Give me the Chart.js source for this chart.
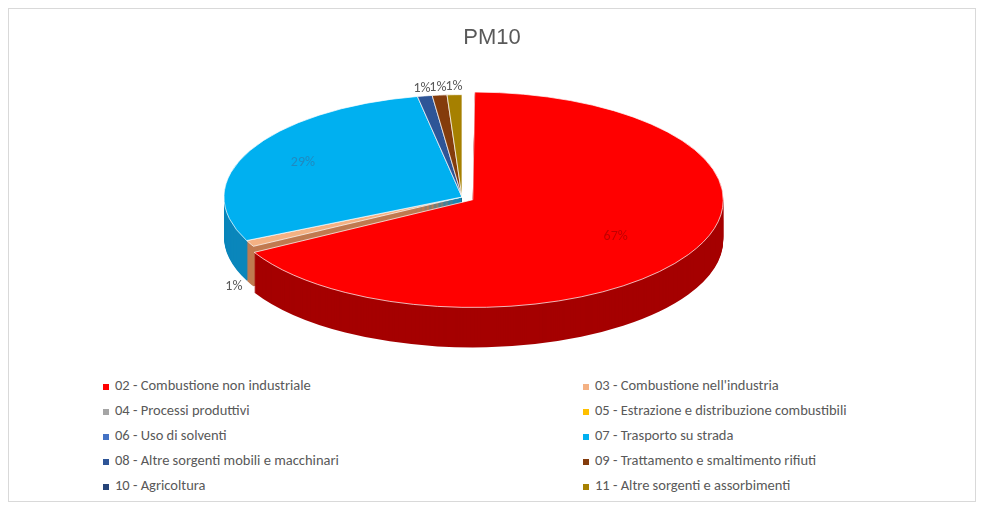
<!DOCTYPE html>
<html>
<head>
<meta charset="utf-8">
<script src="https://cdn.jsdelivr.net/npm/chart.js@4.4.1/dist/chart.umd.min.js"></script>
<style>
  body { margin: 0; background: #fff; font-family: Calibri, Carlito, "Liberation Sans", sans-serif; }
  #box { position: absolute; left: 8px; top: 8px; width: 966px; height: 492px; border: 1px solid #d9d9d9; }
  #wrap { position: absolute; left: 0; top: 0; width: 966px; height: 360px; }
  #legend { position: absolute; left: 94px; top: 367px; width: 860px; display: grid;
            grid-template-columns: 480px 380px; row-gap: 7px; font-size: 14.5px; color: #595959; }
  #legend span.sw { display: inline-block; width: 6px; height: 6px; margin-right: 6px; vertical-align: middle; }
</style>
</head>
<body>
<div id="box">
  <div id="wrap"><canvas id="pm10"></canvas></div>
  <div id="legend"></div>
</div>
<script>
var categorie = ['02 - Combustione non industriale', '03 - Combustione nell\'industria', '04 - Processi produttivi',
  '05 - Estrazione e distribuzione combustibili', '06 - Uso di solventi', '07 - Trasporto su strada',
  '08 - Altre sorgenti mobili e macchinari', '09 - Trattamento e smaltimento rifiuti', '10 - Agricoltura',
  '11 - Altre sorgenti e assorbimenti'];
var valori = [67, 1, 0, 0, 0, 29, 1, 1, 0, 1];
var colori = ['#ff0000', '#f4b183', '#a5a5a5', '#ffc000', '#4472c4', '#00b0f0', '#2e5597', '#843c0c', '#264478', '#a68000'];
var scuri = ['#a50000', '#c07a50', '#7a7a7a', '#c09000', '#2f4f8f', '#0a86bb', '#1e3a6a', '#5a2808', '#1a2f55', '#7a5e00'];

var SQ = 0.43, CY = 188, DEPTH = 40, SHIFT = -30;

function pos(chart) {
  var a = chart.getDatasetMeta(0).data[0];
  return { cx: a.x, cy: a.y };
}

var piano3d = {
  id: 'piano3d',
  beforeDatasetsDraw: function (chart) {
    var ctx = chart.ctx, p = pos(chart), meta = chart.getDatasetMeta(0);
    for (var d = DEPTH; d > 0; d--) {
      ctx.save();
      ctx.translate(p.cx + SHIFT, CY + d);
      ctx.scale(1, SQ);
      ctx.translate(-p.cx, -p.cy);
      meta.data.forEach(function (arc, i) {
        if (!valori[i]) return;
        var o = arc.options, bg = o.backgroundColor, bc = o.borderWidth;
        o.backgroundColor = scuri[i]; o.borderWidth = 0;
        arc.draw(ctx);
        o.backgroundColor = bg; o.borderWidth = bc;
      });
      ctx.restore();
    }
    ctx.save();
    ctx.translate(p.cx + SHIFT, CY);
    ctx.scale(1, SQ);
    ctx.translate(-p.cx, -p.cy);
  },
  afterDatasetsDraw: function (chart) {
    var ctx = chart.ctx, p = pos(chart);
    ctx.restore();
    var meta = chart.getDatasetMeta(0);
    ctx.font = '14px Calibri, Carlito, "Liberation Sans", sans-serif';
    ctx.textAlign = 'center'; ctx.textBaseline = 'middle';
    meta.data.forEach(function (arc, i) {
      if (!valori[i]) return;
      var mid = (arc.startAngle + arc.endAngle) / 2;
      var r = valori[i] > 5 ? arc.outerRadius * 0.75 : arc.outerRadius + 18;
      var x = arc.x + SHIFT + Math.cos(mid) * r;
      var y = CY + (arc.y - p.cy + Math.sin(mid) * r) * SQ;
      if (valori[i] <= 5 && Math.sin(mid) > 0) y += DEPTH;
      ctx.fillStyle = i === 0 ? '#c00000' : (i === 5 ? '#1f8ac0' : '#595959');
      ctx.fillText(valori[i] + '%', x, y);
    });
  }
};

new Chart(document.getElementById('pm10'), {
  type: 'pie',
  data: {
    labels: categorie,
    datasets: [{
      data: valori,
      backgroundColor: colori,
      borderColor: '#ffffff',
      borderWidth: 1,
      offset: [50, 0, 0, 0, 0, 0, 0, 0, 0, 0]
    }]
  },
  options: {
    responsive: true,
    maintainAspectRatio: false,
    animation: false,
    radius: 238,
    layout: { padding: 0 },
    plugins: {
      legend: { display: false },
      tooltip: { enabled: false },
      title: { display: true, text: 'PM10', color: '#595959', font: { size: 22, weight: 'normal' }, padding: { top: 16, bottom: 0 } }
    }
  },
  plugins: [piano3d]
});

var leg = document.getElementById('legend');
categorie.forEach(function (c, i) {
  var d = document.createElement('div');
  d.innerHTML = '<span class="sw" style="background:' + colori[i] + '"></span>' + c;
  leg.appendChild(d);
});
</script>
</body>
</html>
